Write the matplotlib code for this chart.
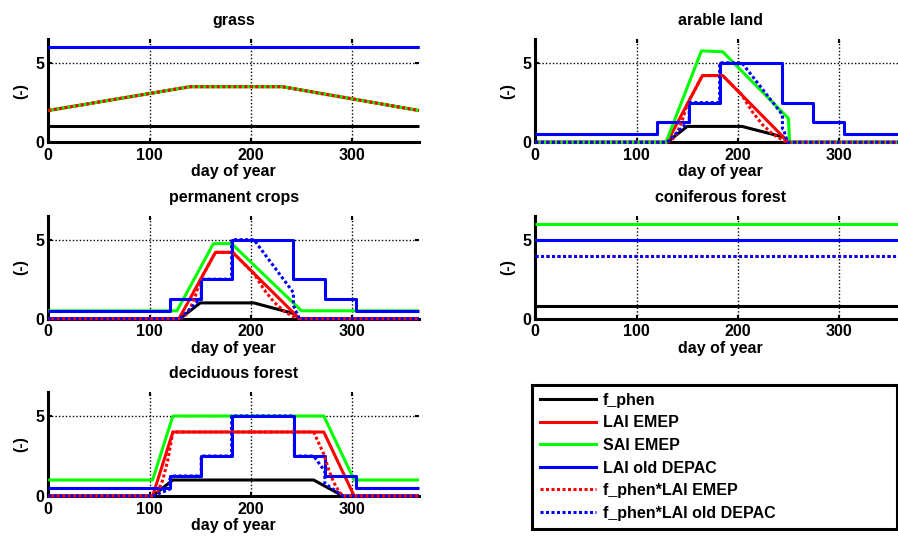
import matplotlib
matplotlib.use("Agg")
import matplotlib.pyplot as plt
from matplotlib.lines import Line2D

plt.rcParams["font.family"] = ["Liberation Sans", "DejaVu Sans"]
plt.rcParams["font.weight"] = "bold"

# ---- series as (day of year, value) breakpoints ----
# grass
grass_f_phen = [(0, 1.0), (366, 1.0)]
grass_lai_emep = [(0, 2.0), (140, 3.5), (231, 3.5), (366, 2.0)]
grass_sai_emep = [(0, 2.0), (140, 3.5), (231, 3.5), (366, 2.0)]
grass_lai_depac = [(0, 6.0), (366, 6.0)]
grass_fphen_lai_emep = [(0, 2.0), (140, 3.5), (231, 3.5), (366, 2.0)]
grass_fphen_lai_depac = [(0, 6.0), (366, 6.0)]

# arable land
arable_f_phen = [(0, 0), (130, 0), (150, 1.0), (204, 1.0), (245, 0.33), (249, 0), (366, 0)]
arable_lai_emep = [(0, 0), (130, 0), (165, 4.2), (185, 4.2), (250, 0), (366, 0)]
arable_sai_emep = [(0, 0), (129, 0), (164, 5.75), (185, 5.7), (250, 1.5), (251, 0), (366, 0)]
arable_lai_depac = [(0, 0.55), (120, 0.55), (120, 1.25), (152, 1.25), (152, 2.5), (182, 2.5),
                    (182, 5.0), (244, 5.0), (244, 2.5), (274, 2.5), (274, 1.25), (305, 1.25),
                    (305, 0.55), (366, 0.55)]
arable_fphen_lai_emep = [(0, 0), (130, 0), (135, 0.15), (140, 0.6), (145, 1.35), (150, 2.4),
                         (165, 4.2), (185, 4.2), (204, 2.97), (214, 1.95), (224, 1.13),
                         (234, 0.53), (245, 0.11), (249, 0), (366, 0)]
arable_fphen_lai_depac = [(0, 0), (130, 0), (150, 1.25), (152, 1.25), (152, 2.5), (182, 2.5),
                          (182, 5.0), (204, 5.0), (244, 1.73), (244, 0.87), (245, 0.83),
                          (249, 0), (366, 0)]

# permanent crops
perm_f_phen = [(0, 0), (130, 0), (150, 1.0), (203, 1.0), (242, 0.33), (248, 0), (366, 0)]
perm_lai_emep = [(0, 0), (129, 0), (165, 4.2), (182, 4.2), (248, 0), (366, 0)]
perm_sai_emep = [(0, 0.5), (127, 0.5), (163, 4.75), (181, 4.75), (250, 0.5), (366, 0.5)]
perm_lai_depac = [(0, 0.5), (120, 0.5), (120, 1.25), (151, 1.25), (151, 2.5), (181, 2.5),
                  (181, 5.0), (242, 5.0), (242, 2.5), (273, 2.5), (273, 1.25), (304, 1.25),
                  (304, 0.5), (366, 0.5)]
perm_fphen_lai_emep = [(0, 0), (130, 0), (135, 0.18), (140, 0.64), (145, 1.4), (150, 2.45),
                       (165, 4.2), (182, 4.2), (203, 2.86), (213, 1.84), (223, 1.04),
                       (233, 0.46), (242, 0.13), (248, 0), (366, 0)]
perm_fphen_lai_depac = [(0, 0), (130, 0), (150, 1.25), (151, 1.25), (151, 2.5), (181, 2.5),
                        (181, 5.0), (203, 5.0), (242, 1.65), (242, 0.83), (248, 0), (366, 0)]

# coniferous forest
con_f_phen = [(0, 0.8), (366, 0.8)]
con_lai_emep = [(0, 5.0), (366, 5.0)]
con_sai_emep = [(0, 6.0), (366, 6.0)]
con_lai_depac = [(0, 5.0), (366, 5.0)]
con_fphen_lai_emep = [(0, 4.0), (366, 4.0)]
con_fphen_lai_depac = [(0, 4.0), (366, 4.0)]

# deciduous forest
dec_f_phen = [(0, 0), (103, 0), (123, 1.0), (262, 1.0), (291, 0), (366, 0)]
dec_lai_emep = [(0, 0), (103, 0), (123, 4.0), (272, 4.0), (302, 0), (366, 0)]
dec_sai_emep = [(0, 1.0), (103, 1.0), (123, 5.0), (272, 5.0), (302, 1.0), (366, 1.0)]
dec_lai_depac = [(0, 0.5), (120, 0.5), (120, 1.25), (151, 1.25), (151, 2.5), (181, 2.5),
                 (181, 5.0), (243, 5.0), (243, 2.5), (273, 2.5), (273, 1.25), (304, 1.25),
                 (304, 0.5), (366, 0.5)]
dec_fphen_lai_emep = [(0, 0), (103, 0), (108, 0.25), (113, 1.0), (118, 2.25), (123, 4.0),
                      (262, 4.0), (267, 3.31), (272, 2.62), (277, 1.61), (282, 0.83),
                      (287, 0.28), (291, 0), (366, 0)]
dec_fphen_lai_depac = [(0, 0), (103, 0), (120, 0.43), (120, 1.06), (123, 1.25), (151, 1.25),
                       (151, 2.5), (181, 2.5), (181, 5.0), (243, 5.0), (243, 2.5), (262, 2.5),
                       (273, 1.55), (273, 0.78), (291, 0), (366, 0)]

series_labels = ["f_phen", "LAI EMEP", "SAI EMEP", "LAI old DEPAC",
                 "f_phen*LAI EMEP", "f_phen*LAI old DEPAC"]
x_ticks = [0, 100, 200, 300]
y_ticks = [0, 5]

panels = [
    ("grass", [grass_f_phen, grass_lai_emep, grass_sai_emep, grass_lai_depac,
               grass_fphen_lai_emep, grass_fphen_lai_depac]),
    ("arable land", [arable_f_phen, arable_lai_emep, arable_sai_emep, arable_lai_depac,
                     arable_fphen_lai_emep, arable_fphen_lai_depac]),
    ("permanent crops", [perm_f_phen, perm_lai_emep, perm_sai_emep, perm_lai_depac,
                         perm_fphen_lai_emep, perm_fphen_lai_depac]),
    ("coniferous forest", [con_f_phen, con_lai_emep, con_sai_emep, con_lai_depac,
                           con_fphen_lai_emep, con_fphen_lai_depac]),
    ("deciduous forest", [dec_f_phen, dec_lai_emep, dec_sai_emep, dec_lai_depac,
                          dec_fphen_lai_emep, dec_fphen_lai_depac]),
]

# ---- styling ----
W, H = 898, 536
LW = 2.2
FS = 11.5
DOT = (0, (1.0, 0.8))
styles = [
    dict(color="black", ls="-"),
    dict(color="#ff0000", ls="-"),
    dict(color="#00ff00", ls="-"),
    dict(color="#0000ff", ls="-"),
    dict(color="#ff0000", ls=DOT),
    dict(color="#0000ff", ls=DOT),
]

fig = plt.figure(figsize=(W / 100, H / 100), dpi=100)

col_x = [48.3, 535.3]
ax_w = 370.7
rows = [(39.0, 142.3), (216.0, 318.7), (392.0, 496.0)]
slots = [(0, 0), (0, 1), (1, 0), (1, 1), (2, 0)]


def px_rect(x0, top, w, bottom):
    return [x0 / W, 1 - bottom / H, w / W, (bottom - top) / H]


for (title, data), (r, c) in zip(panels, slots):
    top, bottom = rows[r]
    ax = fig.add_axes(px_rect(col_x[c], top, ax_w, bottom))
    for pts, st in zip(data, styles):
        days = [p[0] for p in pts]
        vals = [p[1] for p in pts]
        ax.plot(days, vals, color=st["color"], linestyle=st["ls"], linewidth=LW,
                solid_capstyle="butt", dash_capstyle="butt", clip_on=False, zorder=3)
    ax.set_xlim(0, 366)
    ax.set_ylim(0, 6.5)
    ax.set_xticks(x_ticks)
    ax.set_yticks(y_ticks)
    ax.grid(True, color="black", linestyle=(0, (1, 1.5)), linewidth=1.0)
    for s in ("top", "right"):
        ax.spines[s].set_visible(False)
    for s in ("left", "bottom"):
        ax.spines[s].set_linewidth(2.2)
        ax.spines[s].set_zorder(2.5)
    ax.tick_params(direction="in", length=3, width=1.5, labelsize=FS,
                   top=True, right=True)
    ax.tick_params(axis="x", pad=4)
    ax.tick_params(axis="y", pad=3)
    for lab in ax.get_xticklabels() + ax.get_yticklabels():
        lab.set_fontweight("bold")
    ax.set_title(title, fontsize=FS, fontweight="bold", pad=10)
    ax.set_xlabel("day of year", fontsize=FS, fontweight="bold", labelpad=1)
    ax.set_ylabel("(-)", fontsize=FS, fontweight="bold", labelpad=5)

handles = [Line2D([], [], color=st["color"], linestyle=st["ls"], linewidth=LW,
                  dash_capstyle="butt") for st in styles]
leg = fig.legend(handles, series_labels, loc="upper left",
                 bbox_to_anchor=(532 / W, 1 - 528 / H, 365 / W, 143 / H),
                 mode="expand", borderaxespad=0, fancybox=False, frameon=True,
                 handlelength=3.5, handletextpad=0.45, labelspacing=0.47,
                 borderpad=0.5, prop=dict(size=FS, weight="bold"))
frame = leg.get_frame()
frame.set_edgecolor("black")
frame.set_linewidth(2.2)
frame.set_facecolor("white")
frame.set_alpha(1.0)

fig.savefig("out.png", dpi=100)
